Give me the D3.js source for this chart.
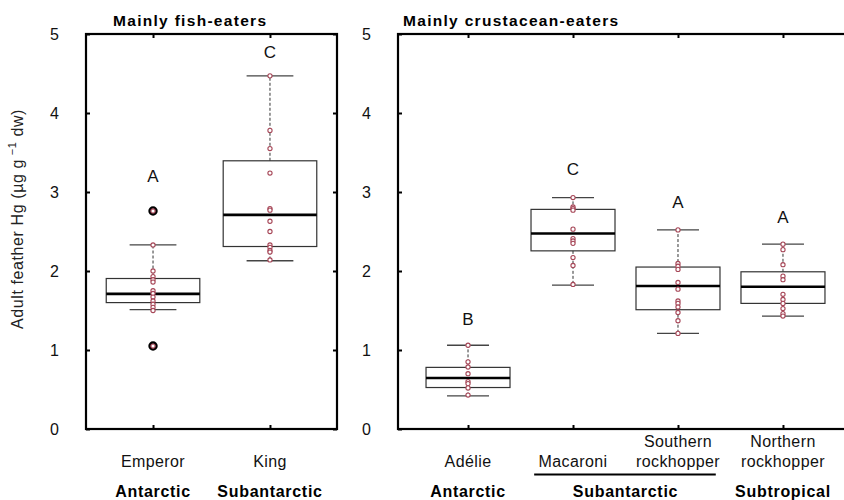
<!DOCTYPE html>
<html>
<head>
<meta charset="utf-8">
<script src="https://cdn.jsdelivr.net/npm/d3@7"></script>
<style>
	body { margin: 0; background: #fff; }
	svg { font-family: "Liberation Sans", Arial, sans-serif; }
	.frame { fill: none; stroke: #000; stroke-width: 2.2px; }
	.axis path { display: none; }
	.axis line { stroke: #000; stroke-width: 2px; }
	.axis text { font-size: 16px; fill: #111; font-family: "Liberation Sans", Arial, sans-serif; }
</style>
</head>
<body>
<div id="chart"></div>
<script>
// left panel - mainly fish-eaters
var fishSpecies = ["Emperor", "King"];
var fishRegions = ["Antarctic", "Subantarctic"];
var fishLow = [1.51, 2.13];
var fishQ1 = [1.60, 2.31];
var fishMedian = [1.71, 2.71];
var fishQ3 = [1.905, 3.395];
var fishHigh = [2.33, 4.47];
var fishPoints = [
	[2.33, 2.00, 1.93, 1.89, 1.86, 1.75, 1.715, 1.67, 1.62, 1.58, 1.54, 1.50],
	[4.47, 3.78, 3.55, 3.24, 2.79, 2.77, 2.63, 2.50, 2.33, 2.30, 2.26, 2.24, 2.14]
];
var fishOutliers = [[2.76, 1.05], []];
var fishLetters = ["A", "C"];
var fishLetterY = [3.21, 4.78];

// right panel - mainly crustacean-eaters
var crustSpecies = ["Adélie", "Macaroni", "Southern rockhopper", "Northern rockhopper"];
var crustLow = [0.42, 1.82, 1.21, 1.43];
var crustQ1 = [0.525, 2.255, 1.51, 1.59];
var crustMedian = [0.646, 2.475, 1.81, 1.80];
var crustQ3 = [0.78, 2.78, 2.05, 1.99];
var crustHigh = [1.06, 2.93, 2.52, 2.34];
var crustPoints = [
	[1.06, 0.85, 0.785, 0.70, 0.60, 0.575, 0.52, 0.43],
	[2.93, 2.81, 2.79, 2.77, 2.53, 2.41, 2.38, 2.35, 2.17, 2.07, 1.83],
	[2.52, 2.095, 2.06, 2.02, 1.855, 1.77, 1.62, 1.59, 1.545, 1.475, 1.37, 1.21],
	[2.34, 2.27, 2.08, 1.935, 1.89, 1.705, 1.64, 1.59, 1.525, 1.46, 1.43]
];
var crustOutliers = [[], [], [], []];
var crustLetters = ["B", "C", "A", "A"];
var crustLetterY = [1.40, 3.29, 2.88, 2.69];
// regions: name, first and last species index
var crustRegions = [["Antarctic", 0, 0], ["Subantarctic", 1, 2], ["Subtropical", 3, 3]];

var yTicks = [0, 1, 2, 3, 4, 5];

var width = 844;
var height = 500;
var plotTop = 34;
var plotBottom = 429;

var pointColor = "#a64657";

var svg = d3.select("#chart").append("svg")
	.attr("width", width)
	.attr("height", height);

var yScale = d3.scaleLinear()
	.domain([0, 5])
	.range([plotBottom, plotTop]);

/* y label */
var ylab = svg.append("text")
	.attr("transform", "translate(23, 219) rotate(-90)")
	.attr("text-anchor", "middle")
	.style("font-size", "16px")
	.style("letter-spacing", "0.6px")
	.style("fill", "#222");
ylab.append("tspan").text("Adult feather Hg (µg g");
ylab.append("tspan").attr("dy", -7).style("font-size", "11px").text(" −1");
ylab.append("tspan").attr("dy", 7).text(" dw)");

function panel(opt) {
	var xScale = d3.scalePoint()
		.domain(opt.species)
		.range([opt.left, opt.right])
		.padding(opt.pad);
	var step = xScale.step();
	var boxW = step * 0.8;
	var capW = boxW / 2;

	var g = svg.append("g");

	// axes, ticks pointing inward
	g.append("g").attr("class", "axis")
		.attr("transform", `translate(${opt.left}, 0)`)
		.call(d3.axisLeft(yScale).tickValues(yTicks).tickSize(-4).tickPadding(27).tickFormat(d3.format("d")));
	g.append("g").attr("class", "axis")
		.attr("transform", `translate(${opt.right}, 0)`)
		.call(d3.axisRight(yScale).tickValues(yTicks).tickSize(-4).tickFormat(""));
	g.append("g").attr("class", "axis")
		.attr("transform", `translate(0, ${plotBottom})`)
		.call(d3.axisBottom(xScale).tickSize(-4).tickFormat(""));
	g.append("g").attr("class", "axis")
		.attr("transform", `translate(0, ${plotTop})`)
		.call(d3.axisTop(xScale).tickSize(-4).tickFormat(""));

	g.append("rect").attr("class", "frame")
		.attr("x", opt.left).attr("y", plotTop)
		.attr("width", opt.right - opt.left).attr("height", plotBottom - plotTop);

	// title
	g.append("text")
		.attr("x", opt.titleX).attr("y", 26)
		.style("font-size", "15.5px").style("font-weight", "bold")
		.style("letter-spacing", "1.3px")
		.text(opt.title);

	var idx = opt.species.map((d, i) => i);

	var boxes = g.selectAll(".box").data(idx).enter().append("g").attr("class", "box");

	// whiskers
	boxes.append("line")
		.attr("x1", i => xScale(opt.species[i])).attr("x2", i => xScale(opt.species[i]))
		.attr("y1", i => yScale(opt.q3[i])).attr("y2", i => yScale(opt.high[i]))
		.style("stroke", "#333").style("stroke-width", 1).style("stroke-dasharray", "3,2");
	boxes.append("line")
		.attr("x1", i => xScale(opt.species[i])).attr("x2", i => xScale(opt.species[i]))
		.attr("y1", i => yScale(opt.q1[i])).attr("y2", i => yScale(opt.low[i]))
		.style("stroke", "#333").style("stroke-width", 1).style("stroke-dasharray", "3,2");
	// caps
	[opt.high, opt.low].forEach(function(arr) {
		boxes.append("line")
			.attr("x1", i => xScale(opt.species[i]) - capW / 2).attr("x2", i => xScale(opt.species[i]) + capW / 2)
			.attr("y1", i => yScale(arr[i])).attr("y2", i => yScale(arr[i]))
			.style("stroke", "#444").style("stroke-width", 1.3);
	});
	// box
	boxes.append("rect")
		.attr("x", i => xScale(opt.species[i]) - boxW / 2)
		.attr("width", boxW)
		.attr("y", i => yScale(opt.q3[i]))
		.attr("height", i => yScale(opt.q1[i]) - yScale(opt.q3[i]))
		.style("fill", "none").style("stroke", "#333").style("stroke-width", 1.2);
	// median
	boxes.append("line")
		.attr("x1", i => xScale(opt.species[i]) - boxW / 2).attr("x2", i => xScale(opt.species[i]) + boxW / 2)
		.attr("y1", i => yScale(opt.median[i])).attr("y2", i => yScale(opt.median[i]))
		.style("stroke", "#000").style("stroke-width", 2.6);

	// outliers: bold black ring
	boxes.selectAll(".out")
		.data(i => opt.outliers[i].map(v => ({i: i, v: v}))).enter()
		.append("circle")
		.attr("cx", d => xScale(opt.species[d.i]))
		.attr("cy", d => yScale(d.v))
		.attr("r", 3.5)
		.style("fill", "none").style("stroke", "#000").style("stroke-width", 2.4);

	// individual values
	boxes.selectAll(".pt")
		.data(i => opt.points[i].concat(opt.outliers[i]).map(v => ({i: i, v: v}))).enter()
		.append("circle")
		.attr("cx", d => xScale(opt.species[d.i]))
		.attr("cy", d => yScale(d.v))
		.attr("r", 2.1)
		.style("fill", "#fff").style("stroke", pointColor).style("stroke-width", 1.1);

	// letters
	boxes.append("text")
		.attr("x", i => xScale(opt.species[i]))
		.attr("y", i => yScale(opt.letterY[i]))
		.attr("dy", "0.36em")
		.attr("text-anchor", "middle")
		.style("font-size", "17px").style("fill", "#111")
		.text(i => opt.letters[i]);

	// species names (split two-word names)
	opt.species.forEach(function(s) {
		var words = s.split(" ");
		var t = g.append("text")
			.attr("x", xScale(s))
			.attr("y", words.length > 1 ? 447 : 467)
			.attr("text-anchor", "middle")
			.style("font-size", "16px").style("letter-spacing", "0.4px").style("fill", "#111");
		words.forEach(function(w, k) {
			t.append("tspan").attr("x", xScale(s)).attr("dy", k == 0 ? 0 : 20).text(w);
		});
	});

	// regions
	opt.regions.forEach(function(r) {
		var x0 = xScale(opt.species[r[1]]);
		var x1 = xScale(opt.species[r[2]]);
		g.append("text")
			.attr("x", (x0 + x1) / 2)
			.attr("y", 497)
			.attr("text-anchor", "middle")
			.style("font-size", "16px").style("font-weight", "bold").style("letter-spacing", "0.7px")
			.text(r[0]);
		if (r[2] > r[1]) {
			g.append("line")
				.attr("x1", x0 - step * 0.37).attr("x2", x1 + step * 0.36)
				.attr("y1", 474.5).attr("y2", 474.5)
				.style("stroke", "#000").style("stroke-width", 2);
		}
	});
}

panel({
	species: fishSpecies, left: 86, right: 337, pad: 0.573, title: "Mainly fish-eaters", titleX: 113,
	low: fishLow, q1: fishQ1, median: fishMedian, q3: fishQ3, high: fishHigh,
	points: fishPoints, outliers: fishOutliers, letters: fishLetters, letterY: fishLetterY,
	regions: fishRegions.map((r, i) => [r, i, i])
});

panel({
	species: crustSpecies, left: 398, right: 853, pad: 0.667, title: "Mainly crustacean-eaters", titleX: 403,
	low: crustLow, q1: crustQ1, median: crustMedian, q3: crustQ3, high: crustHigh,
	points: crustPoints, outliers: crustOutliers, letters: crustLetters, letterY: crustLetterY,
	regions: crustRegions
});
</script>
</body>
</html>
